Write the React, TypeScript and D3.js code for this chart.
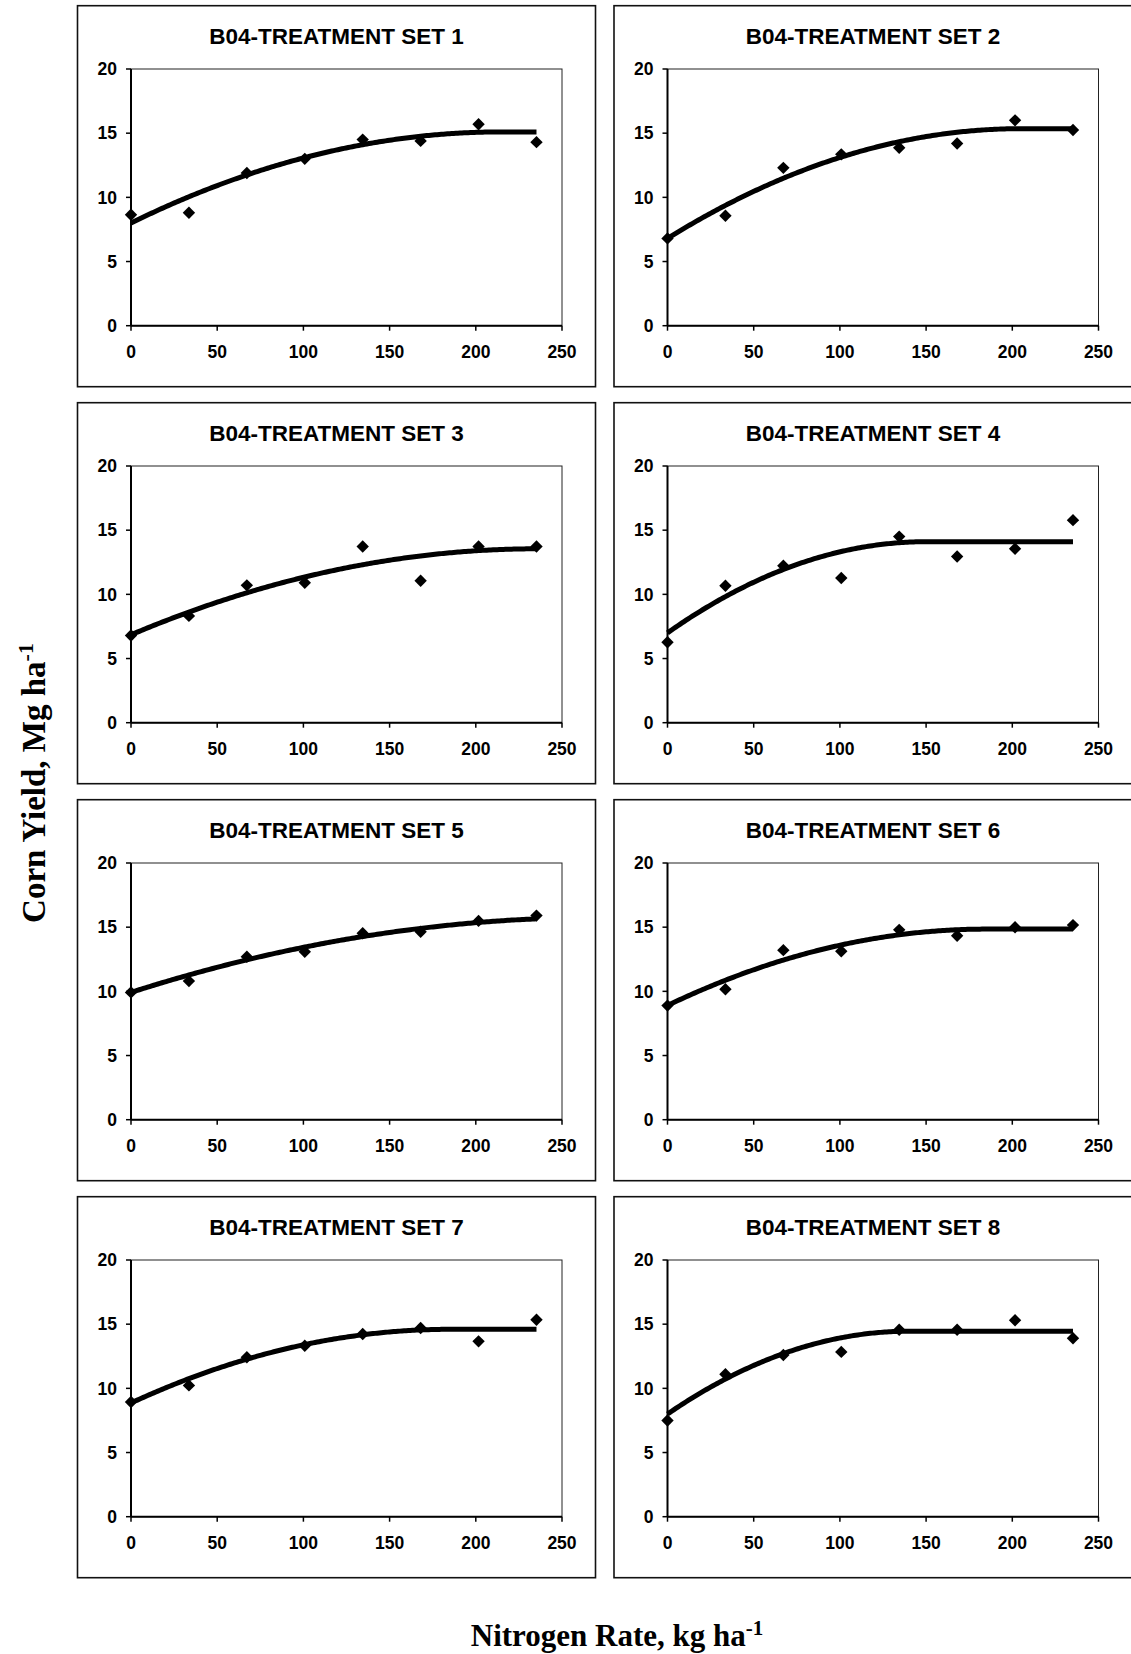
import React from "react";
import * as d3 from "d3";

// ---- data ----
const nitrogenRates = [0, 33.6, 67.2, 100.8, 134.4, 168, 201.6, 235.2];
const panelTitles = [
  "B04-TREATMENT SET 1",
  "B04-TREATMENT SET 2",
  "B04-TREATMENT SET 3",
  "B04-TREATMENT SET 4",
  "B04-TREATMENT SET 5",
  "B04-TREATMENT SET 6",
  "B04-TREATMENT SET 7",
  "B04-TREATMENT SET 8",
];
const yieldSet1 = [8.65, 8.8, 11.9, 13.0, 14.5, 14.4, 15.7, 14.3];
const yieldSet2 = [6.8, 8.57, 12.3, 13.35, 13.87, 14.2, 16.0, 15.25];
const yieldSet3 = [6.79, 8.32, 10.7, 10.9, 13.73, 11.06, 13.73, 13.73];
const yieldSet4 = [6.27, 10.67, 12.23, 11.27, 14.5, 12.95, 13.55, 15.78];
const yieldSet5 = [9.92, 10.8, 12.69, 13.08, 14.53, 14.64, 15.49, 15.9];
const yieldSet6 = [8.89, 10.16, 13.21, 13.13, 14.79, 14.33, 15.0, 15.16];
const yieldSet7 = [8.94, 10.23, 12.42, 13.32, 14.23, 14.7, 13.66, 15.35];
const yieldSet8 = [7.49, 11.1, 12.6, 12.84, 14.57, 14.57, 15.3, 13.9];
const yieldSets = [yieldSet1, yieldSet2, yieldSet3, yieldSet4, yieldSet5, yieldSet6, yieldSet7, yieldSet8];

// quadratic-plateau fit lines
const fitIntercept = [8.0, 6.8, 6.85, 7.0, 9.92, 8.9, 8.86, 8.0];
const fitPlateau = [15.1, 15.35, 13.55, 14.1, 15.75, 14.85, 14.6, 14.45];
const fitJoin = [215, 205, 236, 150, 271, 185, 185, 140];

const xTicks = [0, 50, 100, 150, 200, 250];
const yTicks = [0, 5, 10, 15, 20];
const xAxisTitle = "Nitrogen Rate, kg ha";
const yAxisTitle = "Corn Yield, Mg ha";
const unitExponent = "-1";

// ---- layout ----
const W = 1131;
const H = 1654;
const colX = [77.5, 614];
const rowY0 = 5.7;
const rowPitch = 397;
const frameW = 518;
const frameH = 381;
const plotDX = 53.5;
const plotDY = 63.3;
const plotW = 431;
const plotH = 256.7;

const tickFont = "'Liberation Sans', Arial, sans-serif";
const serif = "'Liberation Serif', 'Times New Roman', serif";

function fitValue(i: number, x: number) {
  const a = fitIntercept[i];
  const p = fitPlateau[i];
  const j = fitJoin[i];
  if (x >= j) return p;
  const t = 1 - x / j;
  return a + (p - a) * (1 - t * t);
}

function Panel({ i }: { i: number }) {
  const fx = colX[i % 2];
  const fy = rowY0 + Math.floor(i / 2) * rowPitch;
  const px = fx + plotDX;
  const py = fy + plotDY;
  const x = d3.scaleLinear().domain([0, 250]).range([px, px + plotW]);
  const y = d3.scaleLinear().domain([0, 20]).range([py + plotH, py]);
  const xs = d3.range(0, 235.2 + 0.001, 1.2);
  const line = d3
    .line<number>()
    .x((d) => x(d))
    .y((d) => y(fitValue(i, d)));
  const r = 6.2;
  return (
    <g>
      <rect x={fx} y={fy} width={frameW} height={frameH} fill="#fff" stroke="#111" strokeWidth={1.6} />
      <text
        x={fx + frameW / 2}
        y={fy + 38}
        textAnchor="middle"
        fontFamily={tickFont}
        fontWeight="bold"
        fontSize={22.5}
        fill="#000"
      >
        {panelTitles[i]}
      </text>
      {/* plot area border */}
      <rect x={px} y={py} width={plotW} height={plotH} fill="none" stroke="#222" strokeWidth={1} />
      {/* axes */}
      <line x1={px} x2={px} y1={py} y2={py + plotH} stroke="#000" strokeWidth={2} />
      <line x1={px} x2={px + plotW} y1={py + plotH} y2={py + plotH} stroke="#000" strokeWidth={2} />
      {yTicks.map((t) => (
        <g key={"y" + t}>
          <line x1={px - 5} x2={px} y1={y(t)} y2={y(t)} stroke="#000" strokeWidth={1.5} />
          <text
            x={px - 14}
            y={y(t)}
            dy="0.36em"
            textAnchor="end"
            fontFamily={tickFont}
            fontWeight="bold"
            fontSize={17.5}
          >
            {t}
          </text>
        </g>
      ))}
      {xTicks.map((t) => (
        <g key={"x" + t}>
          <line x1={x(t)} x2={x(t)} y1={py + plotH} y2={py + plotH + 5} stroke="#000" strokeWidth={1.5} />
          <text
            x={x(t)}
            y={py + plotH + 32}
            textAnchor="middle"
            fontFamily={tickFont}
            fontWeight="bold"
            fontSize={17.5}
          >
            {t}
          </text>
        </g>
      ))}
      <path d={line(xs) || ""} fill="none" stroke="#000" strokeWidth={5} strokeLinejoin="round" />
      {nitrogenRates.map((n, k) => {
        const cx = x(n);
        const cy = y(yieldSets[i][k]);
        return (
          <path
            key={k}
            d={`M${cx},${cy - r}L${cx + r},${cy}L${cx},${cy + r}L${cx - r},${cy}Z`}
            fill="#000"
          />
        );
      })}
    </g>
  );
}

export default function App() {
  return (
    <svg
      width={W}
      height={H}
      style={{ position: "absolute", left: 0, top: 0, background: "#fff" }}
      xmlns="http://www.w3.org/2000/svg"
    >
      <rect x={0} y={0} width={W} height={H} fill="#fff" />
      {panelTitles.map((_, i) => (
        <Panel key={i} i={i} />
      ))}
      <text
        transform={`translate(45, 783) rotate(-90)`}
        textAnchor="middle"
        fontFamily={serif}
        fontWeight="bold"
        fontSize={33}
      >
        {yAxisTitle}
        <tspan dy={-12} fontSize={22}>
          {unitExponent}
        </tspan>
      </text>
      <text
        x={617}
        y={1646}
        textAnchor="middle"
        fontFamily={serif}
        fontWeight="bold"
        fontSize={31}
      >
        {xAxisTitle}
        <tspan dy={-11} fontSize={21}>
          {unitExponent}
        </tspan>
      </text>
    </svg>
  );
}
